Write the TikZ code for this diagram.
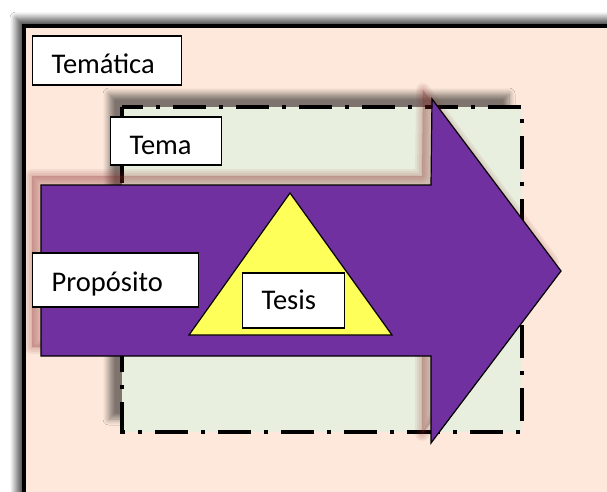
\documentclass[tikz,border=0pt]{standalone}
\usepackage{fontspec}
\setmainfont{Carlito}
\usetikzlibrary{shadows.blur}
\definecolor{peach}{HTML}{FDE8DB}
\definecolor{palegreen}{HTML}{E9EFDE}
\definecolor{arrowpurple}{HTML}{7030A0}
\definecolor{triyellow}{HTML}{FFFF5A}
\definecolor{glow}{HTML}{8A2A2A}
\tikzset{
  lbl/.style={draw=black, line width=1.3pt, fill=white, inner ysep=0pt, inner xsep=19pt,
    align=left, anchor=base west, font=\fontsize{28.5}{32}\selectfont, text=black},
  dashdot/.style={line width=3.5pt, dash pattern=on 33pt off 13pt on 4pt off 13pt, dash phase=12pt},
}
\begin{document}
\begin{tikzpicture}[x=1pt,y=-1pt]
\useasboundingbox (0,0) rectangle (607,491);
\fill[white] (0,0) rectangle (607,491);
% outer frame with shadow
\begin{scope}
\clip (0,0) rectangle (607,491);
\path[fill=peach, blur shadow={shadow xshift=-8pt, shadow yshift=8pt, shadow blur steps=10, shadow blur radius=6pt, shadow opacity=65}] (24,26) rectangle (640,520);
\draw[line width=4pt] (24,520) -- (24,26) -- (640,26);
\end{scope}
% Temática
\node[lbl, text width=111pt, text height=37pt, text depth=12pt] (tematica) at (32,73) {Temática};
% dash-dot rectangle
\path[fill=palegreen, blur shadow={shadow xshift=-13pt, shadow yshift=13pt, shadow blur steps=10, shadow blur radius=6pt, shadow opacity=50}] (122,107) rectangle (522,432);
\draw[dashdot] (122,107) -- (522,107) -- (522,432) -- (122,432) -- cycle;
% Tema
\node[lbl, text width=73pt, text height=37pt, text depth=11pt] (tema) at (110,154) {Tema};
% arrow glow
\begin{scope}[shift={(-9,-9)}]
\foreach \w in {14,10,6,2}{
  \path[fill=glow, draw=glow, line width=\w pt, line join=round, opacity=0.07]
    (41,185) -- (431,185) -- (432,99) -- (561,271) -- (431,443) -- (431,356) -- (41,356) -- cycle;
}
\end{scope}
% arrow
\path[fill=arrowpurple, draw=black, line width=1.2pt]
  (41,185) -- (431,185) -- (432,99) -- (561,271) -- (431,443) -- (431,356) -- (41,356) -- cycle;
% triangle
\path[fill=triyellow, draw=black, line width=1.2pt] (290,193) -- (392,335) -- (189,335) -- cycle;
% Propósito
\node[lbl, text width=128pt, text height=38pt, text depth=16pt] (proposito) at (32,291) {Propósito};
% Tesis
\node[lbl, text width=64pt, text height=36pt, text depth=19pt] (tesis) at (242,309) {Tesis};
\end{tikzpicture}
\end{document}
